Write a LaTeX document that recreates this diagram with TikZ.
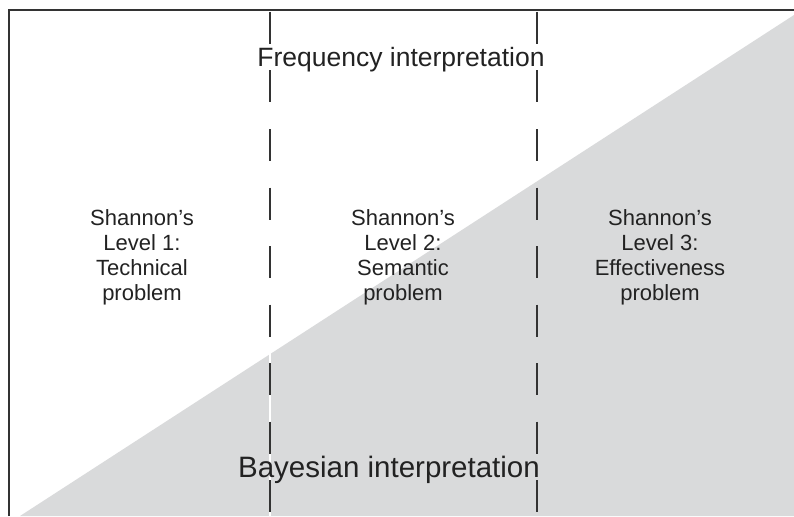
\documentclass[tikz,border=0pt]{standalone}
\usepackage{fontspec}
\setmainfont{Liberation Sans}
\definecolor{greyfill}{HTML}{D9DADB}
\definecolor{ink}{HTML}{222222}
\definecolor{linec}{HTML}{333333}
\begin{document}
\begin{tikzpicture}[x=1pt,y=-1pt,
  framelines/.style={draw=linec,line width=2pt},
  dashline/.style={draw=linec,line width=1.2pt,dash pattern=on 32pt off 26.5pt},
  coltext/.style={text=ink,align=center,inner sep=0pt,font=\fontsize{22}{25}\selectfont},
  headtext/.style={text=ink,inner sep=0pt,font=\fontsize{26.5}{30}\selectfont}]
\useasboundingbox (0,0) rectangle (794,516);
\fill[greyfill] (20,516) -- (794,15) -- (794,516) -- cycle;
\draw[white,line width=1.2pt] (270,352) -- (270,516);
\draw[dashline] (270,12) -- (270,516);
\draw[dashline] (537,12) -- (537,516);
\draw[framelines] (8.5,516) -- (8.5,10.5) -- (794,10.5);
\node[headtext] (freq) at (401,60) {Frequency interpretation};
\node[headtext,font=\fontsize{29.5}{33}\selectfont] (bayes) at (389,470) {Bayesian interpretation};
\node[coltext] (c1) at (142,257) {Shannon’s\\Level 1:\\Technical\\problem};
\node[coltext] (c2) at (403,257) {Shannon’s\\Level 2:\\Semantic\\problem};
\node[coltext] (c3) at (660,257) {Shannon’s\\Level 3:\\Effectiveness\\problem};
\end{tikzpicture}
\end{document}
